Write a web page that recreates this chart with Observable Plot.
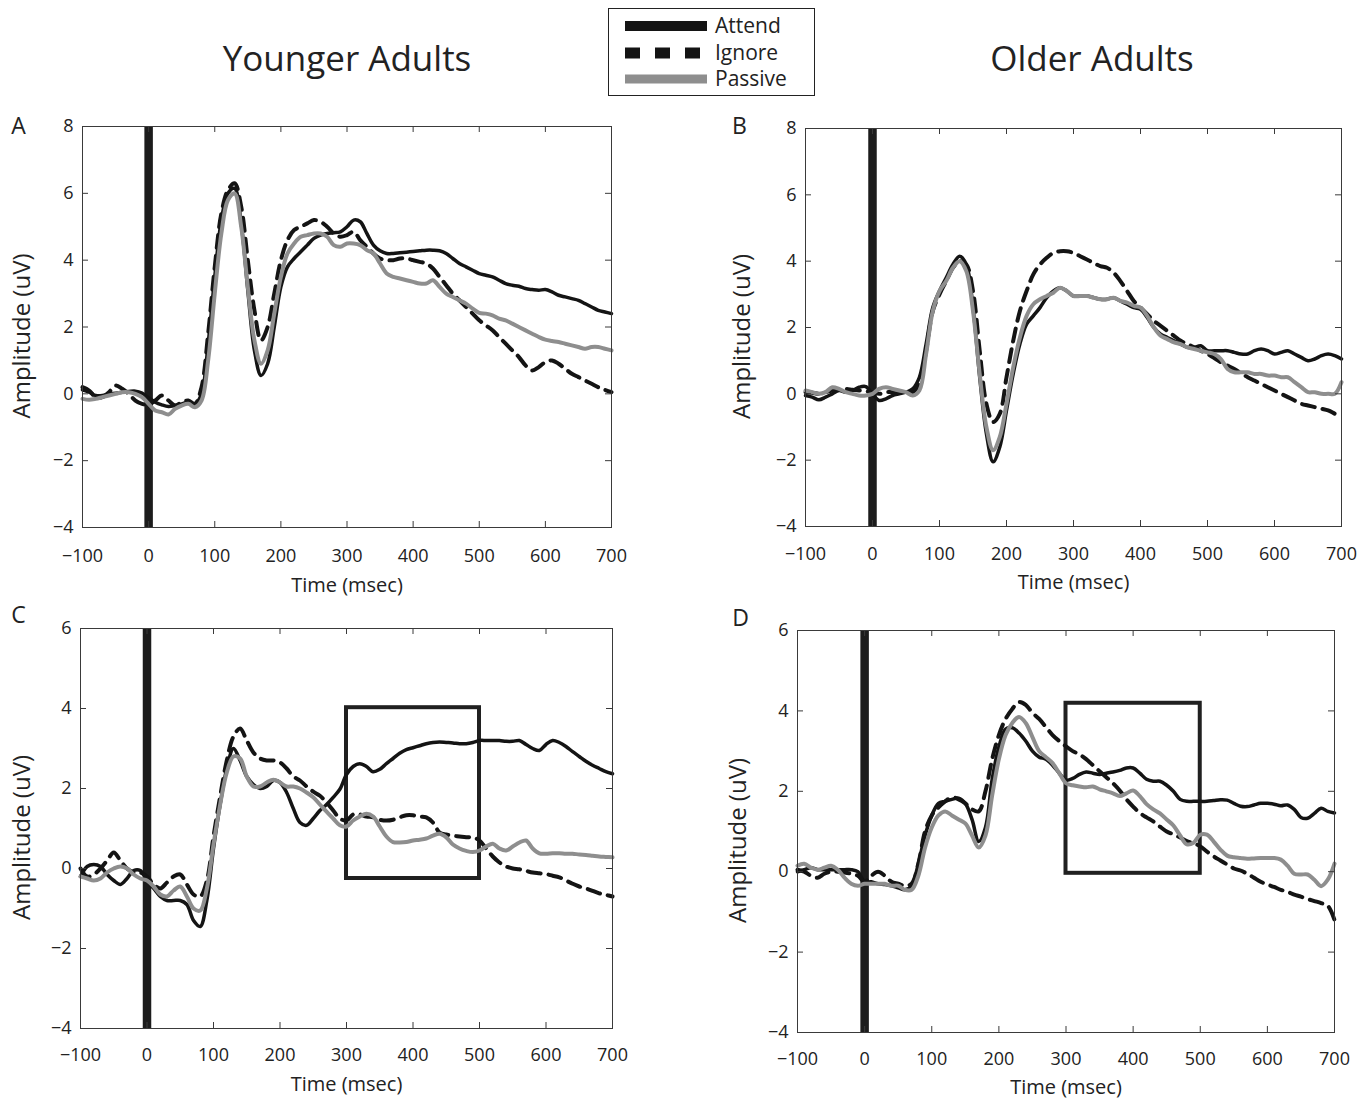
<!DOCTYPE html>
<html><head><meta charset="utf-8">
<script src="https://cdn.jsdelivr.net/npm/d3@7"></script>
<script src="https://cdn.jsdelivr.net/npm/@observablehq/plot@0.6"></script>
<style>
body{margin:0;background:#fff;font-family:"Open Sans",sans-serif;color:#222;}
#root{position:relative;width:1371px;height:1100px;overflow:hidden;background:#fff;}
.title{position:absolute;font-size:35px;transform:translate(-50%,-50%);white-space:nowrap;color:#222;}
.panel{position:absolute;}
#legend{position:absolute;left:608px;top:8px;width:205px;height:86px;border:1px solid #222;background:#fff;}
.lg{position:absolute;left:106px;font-size:21px;line-height:21px;transform:translateY(-52%);color:#222;}
</style></head>
<body><div id="root">
<div class="title" style="left:347px;top:57px">Younger Adults</div>
<div class="title" style="left:1092px;top:57px">Older Adults</div>
<div id="legend">
 <svg width="205" height="86" style="position:absolute;left:0;top:0">
   <line x1="16" x2="98" y1="17" y2="17" stroke="#141414" stroke-width="10"/>
   <line x1="16" x2="98" y1="44" y2="44" stroke="#141414" stroke-width="11" stroke-dasharray="15,15"/>
   <line x1="16" x2="98" y1="70" y2="70" stroke="#8e8e8e" stroke-width="9"/>
 </svg>
 <div class="lg" style="top:17px">Attend</div>
 <div class="lg" style="top:44px">Ignore</div>
 <div class="lg" style="top:70px">Passive</div>
</div>
</div>
<script>
// time axis (ms)
const TIME = [-100,-90,-80,-70,-60,-50,-40,-30,-20,-10,
  0,10,20,30,40,50,60,70,80,90,
  100,110,120,130,140,150,160,170,180,190,
  200,210,220,230,240,250,260,270,280,290,
  300,310,320,330,340,350,360,370,380,390,
  400,410,420,430,440,450,460,470,480,490,
  500,510,520,530,540,550,560,570,580,590,
  600,610,620,630,640,650,660,670,680,690,
  700];
const X_TICKS = [-100,0,100,200,300,400,500,600,700];
const Y_TICKS_TOP = [-4,-2,0,2,4,6,8];
const Y_TICKS_BOTTOM = [-4,-2,0,2,4,6];

// Panel A: Younger adults (top)
const A_attend = [0.12,0.05,-0.05,-0.05,0.0,0.02,0.05,0.07,0.08,0.02,
  -0.12,-0.25,-0.33,-0.38,-0.35,-0.3,-0.25,-0.3,0.0,1.5,
  3.5,5.2,6.0,6.15,5.1,3.1,1.3,0.55,0.9,2.0,
  3.2,3.8,4.05,4.25,4.45,4.65,4.75,4.8,4.82,4.85,
  5.0,5.2,5.15,4.8,4.45,4.28,4.2,4.2,4.22,4.24,
  4.26,4.28,4.3,4.3,4.28,4.2,4.05,3.9,3.8,3.7,
  3.6,3.55,3.5,3.4,3.3,3.25,3.22,3.15,3.12,3.1,
  3.12,3.05,2.95,2.9,2.85,2.8,2.7,2.6,2.5,2.45,
  2.4];
const A_ignore = [0.2,0.1,-0.1,-0.1,0.05,0.25,0.15,0.0,-0.2,-0.3,
  -0.32,-0.2,-0.05,-0.2,-0.35,-0.25,-0.2,-0.3,0.2,1.8,
  3.8,5.4,6.1,6.3,5.6,4.0,2.5,1.6,2.0,3.0,
  4.0,4.6,4.9,5.0,5.1,5.2,5.15,5.0,4.8,4.7,
  4.75,4.85,4.6,4.4,4.2,4.05,4.0,4.0,4.05,4.05,
  4.0,3.95,3.9,3.75,3.5,3.25,3.0,2.8,2.6,2.4,
  2.2,2.05,1.9,1.7,1.5,1.3,1.1,0.85,0.7,0.8,
  0.95,1.0,0.9,0.75,0.6,0.5,0.4,0.3,0.2,0.12,
  0.05];
const A_passive = [-0.15,-0.18,-0.15,-0.1,-0.05,0.0,0.05,0.05,0.0,-0.1,
  -0.3,-0.5,-0.55,-0.62,-0.45,-0.35,-0.3,-0.4,-0.2,1.0,
  3.0,4.8,5.8,6.0,5.0,3.2,1.6,0.9,1.3,2.4,
  3.5,4.2,4.5,4.7,4.75,4.8,4.8,4.7,4.45,4.4,
  4.5,4.5,4.45,4.3,4.2,3.9,3.6,3.5,3.45,3.4,
  3.35,3.3,3.3,3.4,3.2,3.0,2.9,2.8,2.7,2.55,
  2.42,2.4,2.35,2.25,2.2,2.1,2.0,1.9,1.8,1.7,
  1.62,1.58,1.55,1.5,1.45,1.4,1.35,1.4,1.4,1.35,
  1.3];

// Panel B: Older adults (top)
const B_attend = [-0.05,-0.1,-0.18,-0.1,0.0,0.1,0.05,0.1,0.2,0.22,
  0.0,-0.2,-0.15,-0.05,0.0,0.05,0.15,0.5,1.5,2.6,
  3.1,3.5,3.9,4.15,3.9,2.6,0.5,-1.2,-2.05,-1.6,
  -0.5,0.6,1.5,2.1,2.35,2.6,2.9,3.1,3.2,3.1,
  2.95,2.95,2.95,2.9,2.85,2.85,2.9,2.8,2.7,2.6,
  2.55,2.3,2.0,1.8,1.7,1.6,1.5,1.4,1.4,1.45,
  1.3,1.3,1.3,1.3,1.25,1.2,1.2,1.3,1.35,1.3,
  1.2,1.25,1.3,1.2,1.1,1.0,1.05,1.15,1.2,1.15,
  1.05];
const B_ignore = [0.05,0.03,0.0,0.05,0.1,0.12,0.15,0.12,0.1,0.08,
  0.05,0.0,0.05,0.05,0.05,0.05,0.05,0.3,1.3,2.5,
  3.0,3.4,3.8,4.0,3.9,3.1,1.3,-0.3,-0.85,-0.6,
  0.5,1.6,2.5,3.1,3.6,3.9,4.1,4.25,4.3,4.3,
  4.25,4.15,4.05,3.95,3.85,3.8,3.65,3.4,3.1,2.8,
  2.6,2.4,2.2,2.05,1.9,1.75,1.6,1.5,1.4,1.3,
  1.2,1.08,0.95,0.85,0.75,0.62,0.5,0.4,0.3,0.2,
  0.1,0.0,-0.1,-0.2,-0.3,-0.35,-0.4,-0.45,-0.5,-0.6,
  -0.7];
const B_passive = [0.1,0.05,0.0,0.05,0.2,0.15,0.05,0.0,-0.05,-0.05,
  0.0,0.15,0.2,0.15,0.1,0.05,-0.05,0.1,1.2,2.5,
  3.1,3.4,3.8,4.0,3.7,2.5,0.6,-1.0,-1.7,-1.3,
  -0.3,0.8,1.7,2.35,2.7,2.85,2.95,3.05,3.2,3.1,
  2.95,2.95,2.95,2.9,2.85,2.85,2.9,2.8,2.75,2.65,
  2.6,2.35,2.0,1.75,1.65,1.55,1.5,1.4,1.35,1.3,
  1.25,1.2,1.05,0.75,0.65,0.65,0.65,0.6,0.6,0.55,
  0.55,0.5,0.5,0.35,0.2,0.05,0.05,0.0,0.0,0.0,
  0.35];

// Panel C: Younger adults (bottom)
const C_attend = [-0.2,0.05,0.1,0.05,-0.15,-0.3,-0.4,-0.25,-0.05,-0.05,
  -0.3,-0.5,-0.7,-0.8,-0.8,-0.8,-0.9,-1.3,-1.45,-0.8,
  0.5,1.6,2.5,3.0,2.7,2.3,2.1,2.0,2.05,2.2,
  2.15,1.9,1.5,1.15,1.08,1.25,1.45,1.6,1.78,1.98,
  2.35,2.55,2.62,2.55,2.42,2.48,2.62,2.75,2.88,2.97,
  3.02,3.07,3.12,3.15,3.16,3.15,3.14,3.12,3.12,3.15,
  3.2,3.2,3.2,3.2,3.18,3.18,3.2,3.1,3.0,2.95,
  3.1,3.2,3.15,3.05,2.92,2.8,2.68,2.58,2.5,2.42,
  2.37];
const C_ignore = [0.0,-0.2,-0.15,0.0,0.2,0.4,0.2,0.0,-0.1,-0.1,
  -0.2,-0.4,-0.5,-0.35,-0.2,-0.15,-0.4,-0.65,-0.7,-0.3,
  0.8,1.8,2.7,3.3,3.5,3.2,2.9,2.75,2.7,2.7,
  2.65,2.5,2.3,2.2,2.05,1.92,1.82,1.65,1.45,1.25,
  1.2,1.35,1.35,1.3,1.28,1.22,1.2,1.22,1.28,1.33,
  1.33,1.3,1.28,1.15,0.9,0.85,0.82,0.8,0.78,0.78,
  0.7,0.5,0.3,0.15,0.05,0.0,-0.02,-0.06,-0.1,-0.12,
  -0.14,-0.18,-0.22,-0.3,-0.38,-0.45,-0.5,-0.56,-0.62,-0.66,
  -0.7];
const C_passive = [-0.2,-0.25,-0.3,-0.25,-0.1,0.0,0.05,0.0,-0.15,-0.25,
  -0.3,-0.45,-0.65,-0.7,-0.55,-0.45,-0.7,-1.0,-1.05,-0.5,
  0.6,1.6,2.4,2.8,2.75,2.3,2.05,2.05,2.15,2.22,
  2.15,2.05,2.05,2.0,1.9,1.78,1.6,1.42,1.25,1.08,
  1.05,1.2,1.3,1.37,1.3,1.05,0.8,0.66,0.65,0.66,
  0.7,0.72,0.75,0.82,0.87,0.78,0.6,0.5,0.44,0.41,
  0.45,0.55,0.62,0.5,0.45,0.55,0.65,0.7,0.5,0.38,
  0.37,0.38,0.38,0.37,0.37,0.35,0.34,0.32,0.3,0.29,
  0.28];

// Panel D: Older adults (bottom)
const D_attend = [0.0,0.05,0.1,0.05,0.05,0.05,0.05,0.05,0.05,0.0,
  -0.25,-0.25,-0.3,-0.32,-0.35,-0.4,-0.45,-0.35,0.2,0.9,
  1.4,1.7,1.75,1.8,1.83,1.7,1.3,0.75,1.1,2.3,
  3.1,3.55,3.58,3.45,3.25,3.0,2.85,2.8,2.65,2.45,
  2.28,2.32,2.42,2.48,2.45,2.42,2.45,2.48,2.52,2.58,
  2.58,2.45,2.3,2.25,2.25,2.15,2.0,1.8,1.75,1.75,
  1.75,1.75,1.77,1.79,1.78,1.7,1.63,1.62,1.66,1.7,
  1.7,1.68,1.64,1.66,1.55,1.35,1.33,1.45,1.58,1.5,
  1.46];
const D_ignore = [0.05,0.0,-0.1,-0.15,-0.05,0.0,0.0,-0.02,-0.05,-0.1,
  -0.25,-0.1,0.0,-0.1,-0.25,-0.3,-0.35,-0.3,0.2,1.0,
  1.4,1.6,1.75,1.85,1.8,1.7,1.55,1.5,2.0,2.8,
  3.4,3.8,4.05,4.22,4.15,3.95,3.8,3.6,3.4,3.25,
  3.12,3.0,2.92,2.8,2.65,2.5,2.35,2.2,2.02,1.8,
  1.62,1.46,1.35,1.25,1.12,1.0,0.93,0.85,0.76,0.71,
  0.63,0.5,0.38,0.28,0.18,0.08,0.03,-0.05,-0.15,-0.25,
  -0.32,-0.38,-0.45,-0.5,-0.57,-0.62,-0.68,-0.73,-0.78,-0.85,
  -1.2];
const D_passive = [0.15,0.2,0.1,0.05,0.1,0.15,0.05,-0.15,-0.3,-0.35,
  -0.3,-0.3,-0.3,-0.3,-0.35,-0.35,-0.45,-0.45,-0.1,0.6,
  1.1,1.4,1.5,1.4,1.3,1.2,0.9,0.6,0.9,1.9,
  2.8,3.4,3.7,3.85,3.7,3.35,3.0,2.85,2.7,2.45,
  2.2,2.15,2.12,2.1,2.12,2.05,2.0,1.95,1.88,1.95,
  2.02,1.88,1.68,1.55,1.45,1.3,1.15,0.9,0.68,0.72,
  0.92,0.92,0.75,0.55,0.4,0.36,0.34,0.32,0.33,0.34,
  0.34,0.34,0.3,0.15,-0.05,-0.07,-0.07,-0.2,-0.36,-0.2,
  0.2];

// Analysis windows (panels C and D)
const C_window = {x1: 300, x2: 500, y1: -0.25, y2: 4.02};
const D_window = {x1: 300, x2: 500, y1: -0.04, y2: 4.19};

const panels = [
  {letter: "A", left: 0, top: 100, width: 690, height: 510, ml: 82, mt: 26, mr: 79, mb: 83,
   yDomain: [-4, 8], yTicks: Y_TICKS_TOP, attend: A_attend, ignore: A_ignore, passive: A_passive,
   letterDx: -64, letterDy: 0, ylabOff: 60, xtPad: 22, xlabOff: 58},
  {letter: "B", left: 720, top: 100, width: 651, height: 510, ml: 85, mt: 28, mr: 30, mb: 84,
   yDomain: [-4, 8], yTicks: Y_TICKS_TOP, attend: B_attend, ignore: B_ignore, passive: B_passive,
   letterDx: -66, letterDy: -2, ylabOff: 63, xtPad: 21, xlabOff: 56},
  {letter: "C", left: 0, top: 600, width: 690, height: 500, ml: 80, mt: 28, mr: 78, mb: 72,
   yDomain: [-4, 6], yTicks: Y_TICKS_BOTTOM, attend: C_attend, ignore: C_ignore, passive: C_passive,
   box: C_window, letterDx: -62, letterDy: -13, ylabOff: 58, xtPad: 20, xlabOff: 56},
  {letter: "D", left: 720, top: 600, width: 651, height: 500, ml: 77, mt: 30, mr: 37, mb: 68,
   yDomain: [-4, 6], yTicks: Y_TICKS_BOTTOM, attend: D_attend, ignore: D_ignore, passive: D_passive,
   box: D_window, letterDx: -57, letterDy: -12, ylabOff: 59, xtPad: 20, xlabOff: 55}
];

const FRAME = "#3a3a3a";
function panel(p) {
  const innerH = p.height - p.mt - p.mb;
  const innerW = p.width - p.ml - p.mr;
  const marks = [Plot.ruleX([0], {stroke: "#1c1c1c", strokeWidth: 8.5})];
  if (p.box) marks.push(Plot.rect([p.box], {x1: "x1", x2: "x2", y1: "y1", y2: "y2", fill: "none", stroke: "#202020", strokeWidth: 4}));
  marks.push(
    Plot.lineY(p.attend, {x: TIME, stroke: "#141414", strokeWidth: 3.5, curve: "catmull-rom"}),
    Plot.lineY(p.ignore, {x: TIME, stroke: "#141414", strokeWidth: 4, strokeDasharray: "13,8", curve: "catmull-rom"}),
    Plot.lineY(p.passive, {x: TIME, stroke: "#8e8e8e", strokeWidth: 4, curve: "catmull-rom"}),
    Plot.frame({stroke: FRAME, strokeWidth: 1}),
    Plot.tickX(X_TICKS, {x: d => d, insetTop: innerH - 6, stroke: FRAME}),
    Plot.tickX(X_TICKS, {x: d => d, insetBottom: innerH - 6, stroke: FRAME}),
    Plot.tickY(p.yTicks, {y: d => d, insetRight: innerW - 6, stroke: FRAME}),
    Plot.tickY(p.yTicks, {y: d => d, insetLeft: innerW - 6, stroke: FRAME}),
    Plot.axisX(X_TICKS, {tickSize: 0, tickPadding: p.xtPad, fontSize: 18, label: null}),
    Plot.axisY(p.yTicks, {tickSize: 0, tickPadding: 9, fontSize: 18, label: null}),
    Plot.text([p.letter], {frameAnchor: "top-left", dx: p.letterDx, dy: p.letterDy, fontSize: 23, fill: "#222",
      textAnchor: "middle", lineAnchor: "middle"}),
    Plot.text(["Amplitude (uV)"], {frameAnchor: "left", dx: -p.ylabOff, dy: 9, rotate: -90, fontSize: 24, fill: "#222",
      textAnchor: "middle", lineAnchor: "middle"}),
    Plot.text(["Time (msec)"], {frameAnchor: "bottom", dy: p.xlabOff, fontSize: 20, fill: "#222",
      textAnchor: "middle", lineAnchor: "middle"})
  );
  const svg = Plot.plot({
    width: p.width, height: p.height,
    marginLeft: p.ml, marginTop: p.mt, marginRight: p.mr, marginBottom: p.mb,
    x: {domain: [-100, 700]},
    y: {domain: p.yDomain},
    style: {fontFamily: "Open Sans", color: "#222", background: "transparent", overflow: "visible"},
    marks
  });
  const div = document.createElement("div");
  div.className = "panel";
  div.style.left = p.left + "px";
  div.style.top = p.top + "px";
  div.appendChild(svg);
  return div;
}
const root = document.getElementById("root");
const legend = document.getElementById("legend");
panels.forEach(p => root.insertBefore(panel(p), legend));
</script>
</body></html>
